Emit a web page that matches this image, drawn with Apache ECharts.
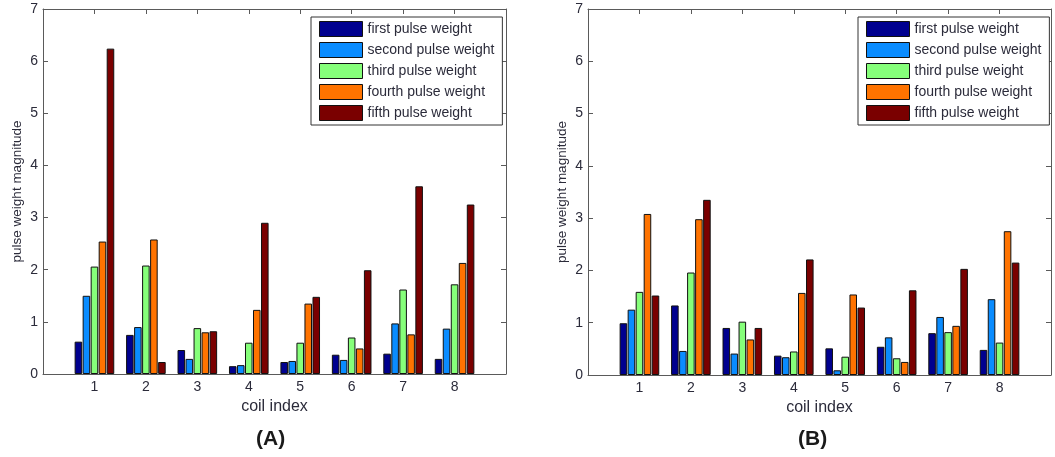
<!DOCTYPE html>
<html>
<head>
<meta charset="utf-8">
<script src="https://cdn.jsdelivr.net/npm/echarts@6/dist/echarts.min.js"></script>
<style>
  html, body { margin: 0; padding: 0; background: #fff; }
  #chart { width: 1055px; height: 457px; }
</style>
</head>
<body>
<div id="chart"></div>
<script>
// ---------- data ----------
const categories = ['1', '2', '3', '4', '5', '6', '7', '8'];
const seriesNames = ['first pulse weight', 'second pulse weight', 'third pulse weight', 'fourth pulse weight', 'fifth pulse weight'];
const yTickLabels = ['0', '1', '2', '3', '4', '5', '6', '7'];
const panelLabels = ['(A)', '(B)'];

// Panel A
const a_first  = [0.62, 0.75, 0.46, 0.15, 0.23, 0.37, 0.39, 0.29];
const a_second = [1.50, 0.90, 0.29, 0.17, 0.25, 0.27, 0.97, 0.87];
const a_third  = [2.06, 2.08, 0.88, 0.60, 0.60, 0.70, 1.62, 1.72];
const a_fourth = [2.54, 2.58, 0.80, 1.23, 1.35, 0.49, 0.76, 2.13];
const a_fifth  = [6.24, 0.23, 0.82, 2.90, 1.48, 1.99, 3.60, 3.25];

// Panel B
const b_first  = [0.99, 1.33, 0.90, 0.37, 0.51, 0.54, 0.80, 0.48];
const b_second = [1.25, 0.46, 0.41, 0.34, 0.09, 0.72, 1.11, 1.45];
const b_third  = [1.59, 1.96, 1.02, 0.45, 0.35, 0.32, 0.82, 0.62];
const b_fourth = [3.08, 2.98, 0.68, 1.57, 1.54, 0.25, 0.94, 2.75];
const b_fifth  = [1.52, 3.35, 0.90, 2.21, 1.29, 1.62, 2.03, 2.15];

const panelA = [a_first, a_second, a_third, a_fourth, a_fifth];
const panelB = [b_first, b_second, b_third, b_fourth, b_fifth];

// ---------- styling ----------
const colors = ['#00008F', '#0A8CFF', '#86FF7A', '#FF7300', '#7A0000'];
const FONT = "'Liberation Sans', Arial, sans-serif";
const axisColor = '#5a5a5a';
const textColor = '#2b2b3a';

const chart = echarts.init(document.getElementById('chart'), null, { renderer: 'canvas' });

function bottomX(gridIndex) {
  return {
    type: 'value', gridIndex, min: 0, max: categories.length + 1, interval: 1,
    name: 'coil index', nameLocation: 'middle', nameGap: 25,
    nameTextStyle: { fontFamily: FONT, fontSize: 16, color: textColor },
    axisLine: { show: true, onZero: false, lineStyle: { color: axisColor, width: 1 } },
    axisTick: { show: true, inside: true, length: 5, lineStyle: { color: axisColor } },
    axisLabel: {
      margin: 6, fontFamily: FONT, fontSize: 14, color: textColor,
      formatter: v => (v >= 1 && v <= categories.length) ? categories[v - 1] : ''
    },
    splitLine: { show: false }
  };
}
function topX(gridIndex) {
  return {
    type: 'value', gridIndex, position: 'top', min: 0, max: categories.length + 1, interval: 1,
    axisLine: { show: true, onZero: false, lineStyle: { color: axisColor, width: 1 } },
    axisTick: { show: true, inside: true, length: 5, lineStyle: { color: axisColor } },
    axisLabel: { show: false },
    splitLine: { show: false }
  };
}
function leftY(gridIndex) {
  return {
    type: 'value', gridIndex, min: 0, max: yTickLabels.length - 1, interval: 1,
    name: 'pulse weight magnitude', nameLocation: 'middle', nameGap: 19,
    nameTextStyle: { fontFamily: FONT, fontSize: 13.5, color: textColor },
    axisLine: { show: true, onZero: false, lineStyle: { color: axisColor, width: 1 } },
    axisTick: { show: true, inside: true, length: 5, lineStyle: { color: axisColor } },
    axisLabel: {
      margin: 5, fontFamily: FONT, fontSize: 14, color: textColor,
      formatter: v => yTickLabels[v] !== undefined ? yTickLabels[v] : ''
    },
    splitLine: { show: false }
  };
}
function rightY(gridIndex) {
  return {
    type: 'value', gridIndex, position: 'right', min: 0, max: yTickLabels.length - 1, interval: 1,
    axisLine: { show: true, onZero: false, lineStyle: { color: axisColor, width: 1 } },
    axisTick: { show: true, inside: true, length: 5, lineStyle: { color: axisColor } },
    axisLabel: { show: false },
    splitLine: { show: false }
  };
}

function makeSeries(panelData, xIdx, yIdx) {
  return panelData.map((vals, k) => ({
    type: 'bar',
    name: seriesNames[k],
    xAxisIndex: xIdx,
    yAxisIndex: yIdx,
    barGap: '6%',
    barCategoryGap: '23%',
    itemStyle: { color: colors[k], borderColor: '#111', borderWidth: 1 },
    emphasis: { disabled: true },
    animation: false,
    data: vals.map((v, i) => [i + 1, v])
  }));
}

function makeLegend(left) {
  return {
    orient: 'vertical', left: left, top: 17,
    data: seriesNames,
    icon: 'rect',
    itemWidth: 43, itemHeight: 15, itemGap: 5,
    padding: [4, 8, 4, 8],
    borderColor: '#333', borderWidth: 1, borderRadius: 0,
    backgroundColor: '#fff',
    textStyle: { fontFamily: FONT, fontSize: 14, color: textColor },
    itemStyle: { borderColor: '#111', borderWidth: 1 },
    selectedMode: false
  };
}

const option = {
  backgroundColor: '#fff',
  animation: false,
  grid: [
    { left: 43, top: 9, width: 463, height: 365, containLabel: false },
    { left: 588, top: 9, width: 463, height: 366, containLabel: false }
  ],
  xAxis: [bottomX(0), topX(0), bottomX(1), topX(1)],
  yAxis: [leftY(0), rightY(0), leftY(1), rightY(1)],
  legend: [makeLegend(311), makeLegend(858)],
  series: [...makeSeries(panelA, 0, 0), ...makeSeries(panelB, 2, 2)],
  graphic: [
    { type: 'text', left: 256, top: 429,
      style: { text: panelLabels[0], font: "bold 21px " + FONT, fill: '#1a1a1a' } },
    { type: 'text', left: 798, top: 429,
      style: { text: panelLabels[1], font: "bold 21px " + FONT, fill: '#1a1a1a' } }
  ]
};

chart.setOption(option);
</script>
</body>
</html>
